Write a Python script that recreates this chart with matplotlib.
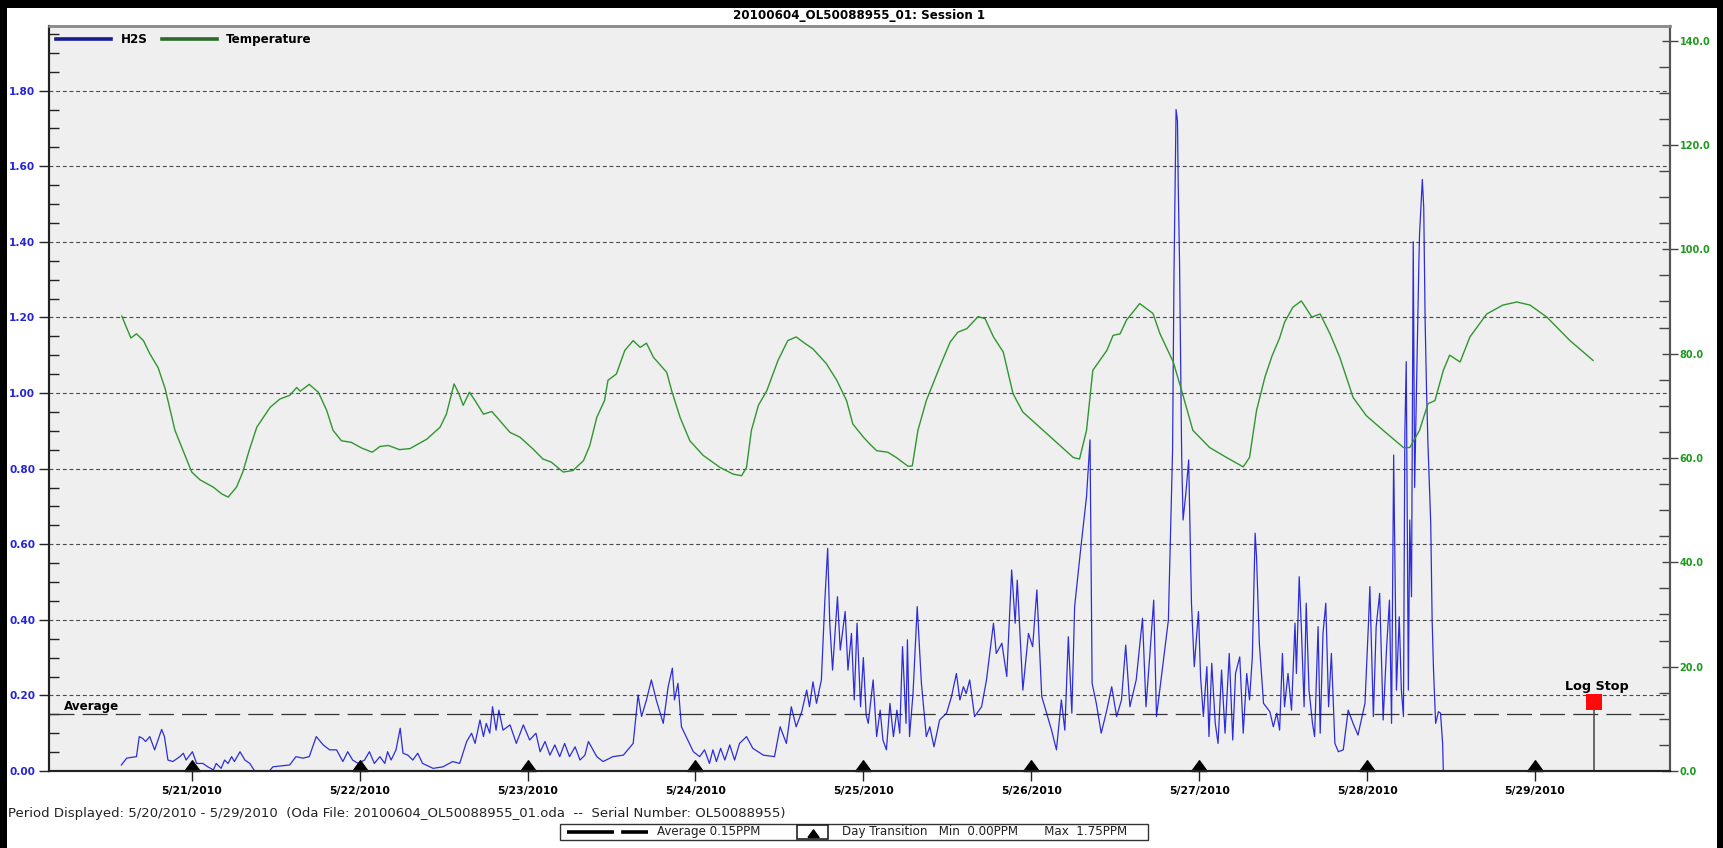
import datetime as dt
import matplotlib
matplotlib.use("Agg")
import matplotlib.pyplot as plt
import matplotlib.dates as mdates
from matplotlib.ticker import MultipleLocator
from matplotlib.lines import Line2D
from matplotlib.patches import Rectangle

# Logger session data, hours counted from 5/20/2010 00:00
start = dt.datetime(2010, 5, 20)
title = "20100604_OL50088955_01: Session 1"

temp_hours = [14.0, 15.3, 16.1, 17.1, 18.0, 19.2, 20.2, 21.6, 24.0, 25.2, 27.1, 28.3, 29.2, 30.4,
              31.3, 32.2, 33.3, 35.2, 36.6, 38.0, 39.0, 39.5, 40.8, 42.1, 43.3, 44.2, 45.4, 46.8,
              48.3, 49.8, 50.9, 52.1, 53.7, 55.2, 57.6, 59.5, 60.4, 61.5, 62.2, 62.8, 63.7, 64.5,
              65.7, 66.9, 68.0, 69.5, 70.9, 72.8, 74.2, 75.4, 77.1, 78.5, 80.0, 80.9, 81.9, 83.0,
              83.5, 84.7, 85.9, 87.1, 88.1, 89.0, 90.0, 91.9, 92.6, 93.8, 95.2, 97.1, 99.5, 101.4,
              102.6, 103.3, 104.0, 105.0, 106.2, 107.8, 109.2, 110.4, 111.4, 112.8, 114.7, 116.2,
              117.6, 118.5, 120.0, 120.9, 121.9, 123.5, 124.7, 126.4, 127.0, 127.8, 129.0, 130.9,
              132.4, 133.5, 134.8, 136.4, 137.4, 138.6, 140.0, 141.4, 142.8, 145.7, 148.1, 150.0,
              150.9, 151.9, 152.8, 154.8, 155.7, 156.7, 157.6, 159.5, 161.4, 162.4, 164.3, 165.5,
              167.1, 169.5, 171.9, 174.3, 175.2, 176.2, 177.4, 178.4, 179.5, 180.2, 181.4, 182.6,
              183.2, 184.1, 185.3, 186.7, 188.1, 190.0, 191.9, 194.3, 197.2, 198.1, 199.5, 200.7,
              201.7, 202.9, 203.8, 205.3, 206.7, 209.1, 211.4, 213.4, 215.3, 217.7, 221.0, 224.3]
temp_values = [87.2, 83.0, 83.8, 82.5, 80.0, 77.3, 73.3, 65.3, 57.3, 55.8, 54.4, 53.1, 52.5, 54.4,
               57.3, 61.4, 65.9, 69.7, 71.3, 72.0, 73.5, 72.8, 74.1, 72.6, 69.1, 65.3, 63.3, 63.0,
               61.9, 61.1, 62.2, 62.4, 61.6, 61.8, 63.6, 65.9, 68.4, 74.2, 72.3, 70.1, 72.6, 71.0,
               68.4, 68.9, 67.2, 64.9, 64.0, 61.7, 59.8, 59.2, 57.3, 57.6, 59.5, 62.4, 67.8, 71.0,
               74.9, 76.1, 80.6, 82.5, 81.2, 82.0, 79.3, 76.4, 72.9, 67.8, 63.3, 60.5, 58.2, 56.9,
               56.6, 58.2, 65.3, 70.1, 72.9, 78.7, 82.5, 83.2, 82.2, 80.9, 78.1, 74.9,
               71.0, 66.5, 64.0, 62.7, 61.4, 61.1, 60.1, 58.4, 58.5, 65.3, 71.0, 77.4,
               82.2, 84.1, 84.8, 87.1, 86.7, 83.2, 80.3, 72.3, 68.8, 65.3, 62.4, 60.1,
               59.8, 65.3, 76.8, 80.6, 83.5, 83.8, 86.4, 89.6, 87.7, 83.8, 78.4, 72.9,
               65.3, 62.0, 60.1, 58.3, 60.1, 69.1, 75.5, 79.5, 83.0, 86.0, 88.9, 90.1,
               88.9, 87.0, 87.6, 83.8, 79.3, 71.6, 68.1, 65.3, 62.0, 62.0, 65.3, 70.4,
               71.0, 76.8, 79.7, 78.4, 83.2, 87.6, 89.3, 89.9, 89.3, 87.0, 82.5, 78.7]

h2s_hours = [13.95, 14.7, 16.1, 16.5, 17.0, 17.4, 18.0, 18.7, 19.7, 20.1, 20.6, 21.3, 22.3, 22.8,
             23.2, 24.1, 24.7, 25.6, 26.3, 27.1, 27.5, 28.2, 28.7, 29.2, 29.7, 30.1, 30.9, 31.6,
             32.3, 33.0, 35.1, 35.6, 38.0, 38.9, 39.9, 40.8, 41.8, 42.8, 43.7, 44.7, 45.6, 46.3,
             47.0, 47.8, 48.7, 49.4, 50.1, 50.9, 51.6, 52.0, 52.5, 53.2, 53.8, 54.2, 54.9, 55.6,
             56.3, 57.0, 58.5, 59.9, 61.3, 62.3, 63.3, 64.0, 64.5, 65.2, 65.7, 66.1, 66.6, 67.0,
             67.5, 67.9, 68.5, 69.5, 70.4, 71.4, 72.3, 73.2, 73.8, 74.5, 75.2, 75.9, 76.6, 77.3,
             78.0, 78.8, 79.5, 80.2, 80.7, 81.9, 82.8, 84.2, 85.7, 87.1, 87.8, 88.3, 89.0, 89.7,
             90.4, 91.4, 92.1, 92.7, 93.0, 93.5, 94.0, 94.9, 95.7, 96.6, 97.3, 98.0, 98.5, 99.0,
             99.6, 100.2, 100.9, 101.6, 102.3, 103.3, 104.2, 105.7, 107.3, 108.1, 109.0, 109.7,
             110.4, 111.2, 111.9, 112.3, 112.8, 113.3, 114.0, 114.5, 114.9, 115.2, 115.6, 116.3,
             116.7, 117.4, 117.8, 118.3, 118.7, 119.1, 119.6, 120.0, 120.4, 120.7, 121.4, 121.9,
             122.4, 122.8, 123.3, 123.8, 124.3, 124.8, 125.2, 125.6, 126.1, 126.3, 126.6, 127.1,
             127.7, 128.3, 129.0, 129.5, 130.1, 130.9, 131.9, 132.6, 133.3, 133.8, 134.3, 134.7,
             135.2, 135.9, 136.9, 137.6, 138.6, 139.0, 139.8, 140.5, 141.2, 141.7, 142.0, 142.8,
             143.6, 144.2, 144.8, 145.5, 146.2, 146.9, 147.6, 148.3, 148.8, 149.3, 149.8, 150.2,
             151.0, 151.9, 152.4, 152.7, 153.3, 154.0, 154.8, 155.5, 156.2, 156.9, 157.5, 158.1,
             159.0, 159.9, 160.4, 161.0, 161.5, 161.9, 162.9, 163.6, 164.2, 164.4, 164.7, 164.9,
             165.0, 165.2, 165.5, 165.7, 166.1, 166.5, 166.9, 167.3, 167.9, 168.2, 168.6, 169.1,
             169.4, 169.8, 170.3, 170.7, 171.2, 171.7, 172.3, 172.8, 173.2, 173.8, 174.3, 174.8,
             175.2, 175.6, 176.0, 176.2, 176.6, 177.2, 178.1, 178.6, 179.1, 179.5, 179.9, 180.2,
             180.7, 181.2, 181.7, 181.9, 182.3, 182.6, 183.0, 183.3, 183.7, 184.2, 184.5, 185.0,
             185.3, 185.7, 186.1, 186.5, 186.9, 187.4, 187.9, 188.6, 189.3, 190.0, 190.7, 191.7,
             192.2, 192.4, 192.9, 193.3, 193.8, 194.3, 194.8, 195.2, 195.5, 195.8, 196.2, 196.6,
             196.9, 197.2, 197.4, 197.6, 197.9, 198.1, 198.35, 198.6, 198.8, 199.1, 199.4, 199.5,
             199.9, 200.1, 200.3, 200.5, 200.7, 201.1, 201.3, 201.5, 201.8, 202.2, 202.5, 202.8,
             202.9, 224.4]
h2s_ppm = [0.016, 0.034, 0.038, 0.091, 0.086, 0.078, 0.091, 0.056, 0.110, 0.091, 0.029, 0.025, 0.038, 0.047,
           0.029, 0.051, 0.020, 0.020, 0.011, 0.003, 0.020, 0.007, 0.029, 0.020, 0.038, 0.025, 0.051, 0.029,
           0.020, 0.0, 0.0, 0.011, 0.016, 0.038, 0.034, 0.038, 0.091, 0.069, 0.056, 0.056, 0.025, 0.051,
           0.029, 0.020, 0.029, 0.051, 0.020, 0.038, 0.020, 0.051, 0.029, 0.056, 0.113, 0.047, 0.042, 0.029,
           0.047, 0.020, 0.007, 0.011, 0.025, 0.020, 0.078, 0.100, 0.073, 0.135, 0.091, 0.126, 0.100, 0.170,
           0.108, 0.161, 0.108, 0.122, 0.073, 0.122, 0.082, 0.100, 0.051, 0.078, 0.042, 0.069, 0.038, 0.073,
           0.038, 0.064, 0.029, 0.042, 0.078, 0.038, 0.025, 0.038, 0.042, 0.073, 0.201, 0.144, 0.188, 0.241,
           0.188, 0.126, 0.223, 0.272, 0.188, 0.232, 0.117, 0.082, 0.051, 0.038, 0.056, 0.020, 0.056, 0.025,
           0.060, 0.029, 0.069, 0.029, 0.073, 0.091, 0.060, 0.042, 0.038, 0.117, 0.073, 0.170,
           0.117, 0.157, 0.214, 0.170, 0.236, 0.179, 0.241, 0.452, 0.589, 0.391, 0.267, 0.461,
           0.320, 0.422, 0.267, 0.364, 0.188, 0.391, 0.170, 0.300, 0.148, 0.126, 0.241, 0.091,
           0.161, 0.082, 0.056, 0.179, 0.091, 0.161, 0.100, 0.329, 0.126, 0.347, 0.091, 0.205,
           0.435, 0.232, 0.091, 0.117, 0.064, 0.135, 0.153, 0.197, 0.258, 0.188, 0.223, 0.205,
           0.241, 0.144, 0.170, 0.241, 0.391, 0.311, 0.338, 0.250, 0.532, 0.391, 0.505, 0.214,
           0.364, 0.329, 0.479, 0.197, 0.153, 0.108, 0.056, 0.188, 0.108, 0.355, 0.153, 0.435,
           0.576, 0.726, 0.876, 0.232, 0.179, 0.100, 0.161, 0.223, 0.144, 0.188, 0.333, 0.170,
           0.241, 0.404, 0.170, 0.320, 0.452, 0.144, 0.294, 0.399, 0.849, 1.310, 1.750, 1.720,
           1.560, 1.340, 0.832, 0.664, 0.735, 0.823, 0.444, 0.276, 0.422, 0.250, 0.144, 0.276,
           0.091, 0.285, 0.126, 0.073, 0.267, 0.100, 0.311, 0.082, 0.258, 0.302, 0.100, 0.258,
           0.188, 0.302, 0.629, 0.567, 0.338, 0.179, 0.157, 0.117, 0.153, 0.108, 0.311, 0.170,
           0.258, 0.161, 0.391, 0.258, 0.514, 0.382, 0.170, 0.444, 0.214, 0.126, 0.091, 0.382,
           0.100, 0.364, 0.444, 0.170, 0.311, 0.073, 0.051, 0.056, 0.161, 0.126, 0.095, 0.179,
           0.391, 0.488, 0.144, 0.382, 0.470, 0.135, 0.329, 0.452, 0.126, 0.836, 0.214, 0.408,
           0.214, 0.144, 0.893, 1.083, 0.214, 0.664, 0.461, 1.400, 0.750, 1.050, 1.340, 1.420,
           1.565, 1.490, 1.190, 1.008, 0.867, 0.655, 0.399, 0.267, 0.126, 0.157, 0.153, 0.073,
           0.0, 0.0]

avg_ppm = 0.15
min_ppm = min(h2s_ppm)
max_ppm = max(h2s_ppm)
log_stop_hour = 224.4
day_marks = [dt.datetime(2010, 5, d) for d in range(21, 30)]
x_range = (3.6, 235.3)   # hours shown on the time axis


def to_num(hours):
    base = mdates.date2num(start)
    return [base + h / 24.0 for h in hours]


W, H = 1723, 848
fig = plt.figure(figsize=(W / 100, H / 100), dpi=100, facecolor="white")
ax = fig.add_axes([49 / W, 77 / H, 1621 / W, 745 / H])
ax.set_facecolor("#efefef")
ax2 = ax.twinx()

bold = dict(family="DejaVu Sans", weight="bold")

# H2S (left axis)
ax.plot(to_num(h2s_hours), h2s_ppm, color="#0c0cd4", lw=0.9, alpha=0.85, zorder=3)
ax.set_ylim(0, 1.971)
ax.set_xlim(*to_num(x_range))
yt = [round(0.2 * i, 2) for i in range(10)]
ax.set_yticks(yt, labels=[f"{v:.2f}" for v in yt], fontsize=7.6, color="#2424d8", **bold)
ax.yaxis.set_minor_locator(MultipleLocator(0.05))
ax.tick_params(axis="y", which="major", direction="out", length=7, width=1, pad=3, color="#222")
ax.tick_params(axis="y", which="minor", direction="in", length=7, width=1, color="#222")
for v in yt[1:]:
    ax.axhline(v, color="#4a4a4a", lw=0.8, ls=(0, (3.5, 2.5)), zorder=1)

# temperature (right axis)
ax2.plot(to_num(temp_hours), temp_values, color="#2f962f", lw=1.0, zorder=2)
ax2.set_ylim(0, 142.8)
rt = list(range(0, 141, 20))
ax2.set_yticks(rt, labels=[f"{v:.1f}" for v in rt], fontsize=7.0, color="#1e9a1e", **bold)
ax2.yaxis.set_minor_locator(MultipleLocator(5))
ax2.tick_params(axis="y", which="major", direction="inout", length=12, width=1, pad=1, color="#444")
ax2.tick_params(axis="y", which="minor", direction="in", length=8, width=1, color="#444")

# day axis
xt = mdates.date2num(day_marks)
ax.set_xticks(xt, labels=[f"{d.month}/{d.day}/{d.year}" for d in day_marks],
              fontsize=7.8, color="black", **bold)
ax.tick_params(axis="x", which="major", direction="out", length=7, width=1, pad=4, color="#222")

for a in (ax, ax2):
    a.spines["left"].set_color("#222")
    a.spines["left"].set_linewidth(1.5)
    a.spines["bottom"].set_color("#222")
    a.spines["bottom"].set_linewidth(1.5)
    a.spines["right"].set_color("#555")
    a.spines["right"].set_linewidth(1.5)
    a.spines["top"].set_color("#8c8c8c")
    a.spines["top"].set_linewidth(1.8)

# day transition markers sitting on the axis
tri = [(-8, 0), (8, 0), (0, 11), (-8, 0)]
ax.plot(xt, [0] * len(xt), ls="none", marker=tri, markersize=15.5, color="black",
        clip_on=False, zorder=5)

# average line
ax.axhline(avg_ppm, color="#333", lw=0.9, ls=(0, (20, 6.5)), zorder=2)
ax.annotate("Average", xy=(0, avg_ppm), xycoords=("axes fraction", "data"),
            xytext=(15, 1.5), textcoords="offset pixels", ha="left", va="bottom",
            fontsize=8.6, **bold)

# log stop flag
stop_x = to_num([log_stop_hour])[0]
ax.plot([stop_x, stop_x], [0, 0.175], color="#444", lw=1.1, zorder=4)
ax.plot(stop_x, 0.183, ls="none", marker="s", markersize=11, markeredgewidth=0,
        color="#ff0a0a", zorder=5)
ax.annotate("Log Stop", xy=(stop_x, 0.183), xytext=(3, 9), textcoords="offset pixels",
            ha="center", va="bottom", fontsize=9.2, **bold)

# series legend
handles = [Line2D([], [], color="#1a1a90", lw=2.6), Line2D([], [], color="#2a6a2a", lw=2.6)]
ax.legend(handles, ["H2S", "Temperature"], loc="upper left", bbox_to_anchor=(0.0, 1.0),
          ncol=2, frameon=False, handlelength=4.6, handletextpad=0.8, columnspacing=1.2,
          borderaxespad=0.2, prop=dict(family="DejaVu Sans", weight="bold", size=8.6))

fig.text(859.5 / W, 1 - 15 / H, title, ha="center", va="center", fontsize=8.6, **bold)

# footer
fig.text(8 / W, 1 - 813 / H,
         "Period Displayed: 5/20/2010 - 5/29/2010  (Oda File: 20100604_OL50088955_01.oda  --  "
         "Serial Number: OL50088955)",
         ha="left", va="center", fontsize=9.55, family="DejaVu Sans", color="#222")

box_y0, box_h = 1 - 840 / H, 16 / H
fig.patches.append(Rectangle((560 / W, box_y0), 588 / W, box_h, transform=fig.transFigure,
                             fill=False, edgecolor="#333", lw=1.0))
fig.lines.append(Line2D([567 / W, 648 / W], [1 - 832 / H] * 2, transform=fig.transFigure,
                        color="black", lw=2.6, ls=(0, (13, 2))))
fig.text(657 / W, 1 - 832 / H, f"Average {avg_ppm:.2f}PPM", ha="left", va="center",
         fontsize=8.6, family="DejaVu Sans", color="#222")
fig.patches.append(Rectangle((797 / W, 1 - 839 / H), 31 / W, 14 / H, transform=fig.transFigure,
                             fill=False, edgecolor="#222", lw=1.2))
fig.lines.append(Line2D([812.5 / W], [1 - 837 / H], transform=fig.transFigure, ls="none",
                        marker=tri, markersize=11, color="black"))
fig.text(842 / W, 1 - 832 / H,
         f"Day Transition   Min  {min_ppm:.2f}PPM       Max  {max_ppm:.2f}PPM",
         ha="left", va="center", fontsize=8.6, family="DejaVu Sans", color="#222")

# dark frame of the capture
for x0, y0, w, h in [(0, 0, 7, H), (0, H - 8, W, 8), (1717, 0, 6, H)]:
    fig.patches.append(Rectangle((x0 / W, y0 / H), w / W, h / H, transform=fig.transFigure,
                                 color="black", lw=0, zorder=10))

fig.savefig("out.png", dpi=100, facecolor="white")
